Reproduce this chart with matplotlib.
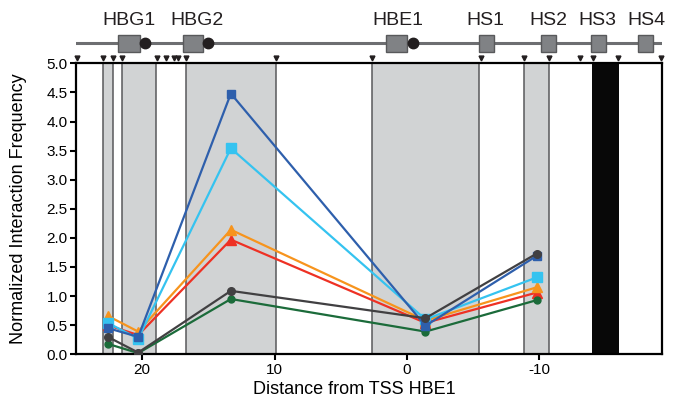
import matplotlib.pyplot as plt
import numpy as np

plt.rcParams['font.family'] = ['Liberation Sans', 'DejaVu Sans']

# distance from TSS HBE1 (kb) of the measured fragments
pos = [22.6, 20.3, 13.3, -1.4, -9.8]

dark_blue = [0.45, 0.30, 4.48, 0.49, 1.69]
light_blue = [0.54, 0.27, 3.54, 0.60, 1.32]
orange = [0.66, 0.39, 2.14, 0.58, 1.15]
red = [0.50, 0.33, 1.97, 0.54, 1.06]
dark_grey = [0.30, 0.03, 1.09, 0.62, 1.73]
green = [0.18, 0.02, 0.95, 0.39, 0.93]

# shaded restriction fragments and the black (anchor) fragment
shaded = [(22.97, 22.22), (21.54, 18.94), (16.66, 9.89), (2.62, -5.46), (-8.81, -10.77)]
anchor = (-14.0, -16.0)
# restriction sites (triangles on top)
sites = [24.94, 22.97, 22.24, 21.54, 18.9, 18.19, 17.62, 17.31, 16.66, 9.89,
         2.6, -5.57, -8.81, -10.75, -13.07, -14.05, -15.96, -19.23]

# gene map
genes = ['HBG1', 'HBG2', 'HBE1', 'HS1', 'HS2', 'HS3', 'HS4']
gene_start = [21.84, 16.94, 1.61, -5.45, -10.1, -13.93, -17.48]
gene_end = [20.2, 15.38, -0.02, -6.61, -11.24, -15.04, -18.59]
gene_label = [20.96, 15.83, 0.7, -5.96, -10.7, -14.37, -18.09]
promoters = [19.75, 15.0, -0.48]

xlim = (25.0, -19.25)

fig = plt.figure(figsize=(6.74, 3.99), dpi=100)
ax = fig.add_axes([76 / 674, 1 - 354.3 / 399, (661.7 - 76) / 674, 291 / 399])

for a, b in shaded:
    ax.axvspan(b, a, color='#d1d3d4', lw=0, zorder=0)
    ax.axvline(a, color='#58595b', lw=1.1, zorder=1)
    ax.axvline(b, color='#58595b', lw=1.1, zorder=1)
ax.axvspan(anchor[1], anchor[0], color='#080808', lw=0, zorder=1)

series = [
    (red, '#ee3124', '^', 6.5),
    (orange, '#f7941d', '^', 6.5),
    (light_blue, '#35c3f0', 's', 7.5),
    (green, '#1b6b3a', 'o', 5),
    (dark_blue, '#2e5fac', 's', 5.5),
    (dark_grey, '#414042', 'o', 5.5),
]
for vals, col, mk, ms in series:
    ax.plot(pos, vals, color=col, lw=1.6, marker=mk, ms=ms, zorder=3)

ax.set_xlim(*xlim)
ax.set_ylim(0, 5.0)
ax.set_xticks([20, 10, 0, -10])
ax.set_xticklabels(['20', '10', '0', '-10'])
ax.set_yticks(np.arange(0, 5.01, 0.5))
ax.set_yticklabels([f'{v:.1f}' for v in np.arange(0, 5.01, 0.5)])
ax.tick_params(axis='both', labelsize=11, width=1.5, length=4, pad=2)
for s in ax.spines.values():
    s.set_linewidth(1.6)
ax.set_xlabel('Distance from TSS HBE1', fontsize=13, labelpad=3, x=0.476)
ax.set_ylabel('Normalized Interaction Frequency', fontsize=13, labelpad=14)

# restriction site triangles above the plot
ax.plot(sites, [1.018] * len(sites), 'v', color='#231f20', ms=3.5,
        transform=ax.get_xaxis_transform(), clip_on=False)

# gene map axes
gx = fig.add_axes([76 / 674, 1 - 60 / 399, (661.7 - 76) / 674, 55 / 399], sharex=ax)
gx.set_ylim(60, 5)
gx.axis('off')
gx.plot([xlim[0], xlim[1]], [43.3, 43.3], color='#6d6e71', lw=2.2, zorder=1)
for name, a, b, lx in zip(genes, gene_start, gene_end, gene_label):
    gx.add_patch(plt.Rectangle((b, 34.7), a - b, 17, facecolor='#808285',
                               edgecolor='#58595b', lw=1, zorder=2))
    gx.text(lx, 25, name, ha='center', va='baseline', fontsize=14, color='#231f20')
gx.plot(promoters, [43.3] * len(promoters), 'o', color='#231f20', ms=7.5, zorder=3)
gx.set_xlim(*xlim)

fig.savefig('out.png', dpi=100)
